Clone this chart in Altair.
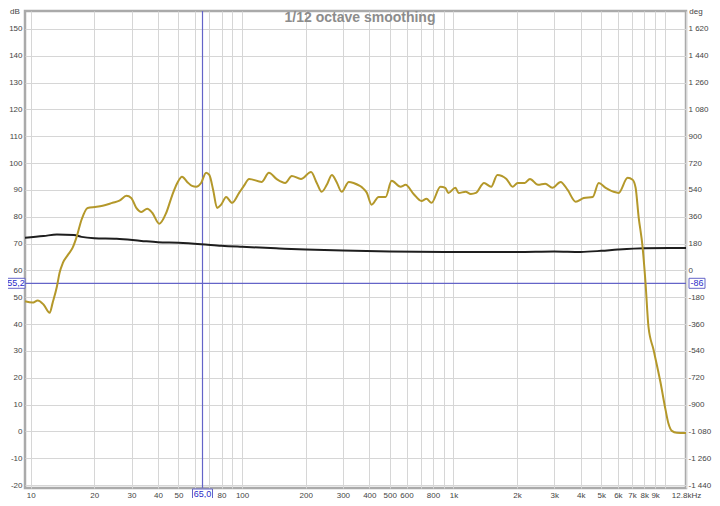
import altair as alt
import pandas as pd

# ---------------- data ----------------
spl_freq = [9.4, 10.2, 10.8, 11.5, 12.3, 12.7, 13.3, 13.7, 14.2, 15.0, 15.8, 16.5, 17.4, 18.6,
            20.5, 21.9, 24.4, 26.3, 28.4, 29.9, 31.6, 33.4, 35.6, 37.6, 40.6, 43.8, 46.8, 49.4,
            52.0, 55.0, 58.0, 60.7, 64.0, 67.6, 70.0, 73.0, 76.2, 79.6, 84.1, 89.7, 97.0, 102,
            108, 124, 134, 146, 160, 172, 190, 212, 226, 238, 252, 266, 280, 296, 320, 337,
            376, 389, 410, 443, 478, 510, 562, 594, 648, 706, 746, 788, 868, 916, 946, 1022,
            1058, 1143, 1208, 1278, 1396, 1508, 1614, 1782, 1904, 2014, 2175, 2302, 2515, 2718,
            2940, 3215, 3470, 3790, 4136, 4562, 4869, 5253, 5727, 6051, 6671, 7043, 7278, 7519,
            7850, 8106, 8372, 8848, 9546, 10080, 10400, 10800, 11400, 12600]
spl_db = [48.5, 48.0, 48.8, 47.3, 44.2, 47.9, 53.9, 59.1, 62.8, 65.8, 68.5, 72.5, 78.9, 83.3,
          83.7, 84.1, 85.2, 86.0, 87.8, 87.0, 83.3, 81.8, 83.0, 81.5, 77.4, 81.5, 88.2, 92.6,
          94.9, 93.0, 91.5, 91.2, 92.6, 96.4, 95.6, 90.0, 83.3, 84.5, 87.4, 85.2, 89.0, 91.5,
          94.1, 93.0, 96.4, 94.0, 92.6, 95.2, 94.1, 96.7, 92.5, 89.3, 92.0, 95.6, 93.0, 89.3, 93.0, 92.6,
          90.4, 89.0, 84.5, 87.4, 87.4, 93.4, 91.2, 91.9, 88.5, 85.9, 86.7, 85.2, 91.2, 90.8, 88.9, 90.8,
          88.9, 89.3, 88.5, 88.9, 92.6, 91.2, 95.6, 94.1, 91.2, 92.6, 92.6, 94.1, 91.9, 92.3,
          90.8, 93.0, 90.0, 85.6, 87.0, 87.4, 92.6, 90.8, 89.3, 88.9, 94.5, 93.8, 90.8, 80.0,
          68.8, 55.4, 39.0, 30.4, 18.2, 8.1, 3.0, 0.2, -0.5, -0.6]

blk_freq = [9.4, 11.5, 13.3, 16.0, 17.4, 20.0, 25.5, 33.4, 40.0, 50.0, 64.0, 80.0, 100, 150,
            200, 300, 500, 1000, 2000, 3000, 4000, 5000, 6000, 8000, 12600]
blk_db = [72.2, 72.8, 73.4, 73.2, 72.5, 72.0, 71.8, 71.0, 70.5, 70.3, 69.8, 69.2, 68.8, 68.2,
          67.8, 67.4, 67.1, 66.9, 66.9, 67.1, 66.9, 67.3, 67.8, 68.3, 68.4]

x_ticks = [10, 20, 30, 40, 50, 60, 70, 80, 90, 100, 200, 300, 400, 500, 600, 700, 800, 900,
           1000, 2000, 3000, 4000, 5000, 6000, 7000, 8000, 9000, 10000, 12600]
y_ticks = [-20, -10, 0, 10, 20, 30, 40, 50, 60, 70, 80, 90, 100, 110, 120, 130, 140, 150]
deg_ticks = [-1440, -1260, -1080, -900, -720, -540, -360, -180, 0, 180, 360, 540, 720, 900,
             1080, 1260, 1440, 1620]

cursor_freq = [65.0]
cursor_db = [55.2]
cursor_deg = [-86.4]
cursor_freq_label = ["65,0"]
cursor_db_label = ["55,2"]
cursor_deg_label = ["-86"]

title_text = "1/12 octave smoothing"

# ---------------- layout / style ----------------
W, H = 661, 477
FONT = "Liberation Sans"
db_domain = [-21.1, 156.7]
deg_domain = [(d - 60) * 18 for d in db_domain]
x_domain = [9.4, 12600]

GOLD = "#b4982a"
BLACK = "#1e1e1e"
CURSOR = "#6464c8"
CTEXT = "#2a2ac8"
GRID = "#d6d6d6"

df_spl = pd.DataFrame({"f": spl_freq, "db": spl_db})
df_blk = pd.DataFrame({"f": blk_freq, "db": blk_db})
df_cf = pd.DataFrame({"f": cursor_freq, "lbl": cursor_freq_label})
df_cd = pd.DataFrame({"db": cursor_db, "lbl": cursor_db_label})
df_cg = pd.DataFrame({"deg": cursor_deg, "lbl": cursor_deg_label})

x_label_expr = (
    "datum.value == 12600 ? '12,8kHz' : "
    "indexof([60, 70, 90, 700, 900, 10000], datum.value) >= 0 ? '' : "
    "datum.value >= 1000 ? (datum.value / 1000) + 'k' : '' + datum.value"
)
x_axis = alt.Axis(values=x_ticks, labelExpr=x_label_expr, grid=True, gridColor=GRID,
                  gridWidth=1, ticks=False, domain=False, labelFont=FONT, labelFontSize=8,
                  labelColor="#444444", labelPadding=3, labelFlush=False,
                  labelOverlap=False, title=None, zindex=0)
x_scale = alt.Scale(type="log", domain=x_domain, nice=False)

y_axis = alt.Axis(values=y_ticks,
                  labelExpr="datum.value < 0 ? '-' + abs(datum.value) : '' + datum.value",
                  grid=True, gridColor=GRID, gridWidth=1, ticks=False, domain=False,
                  labelFont=FONT, labelFontSize=8, labelColor="#444444", labelPadding=3,
                  labelFlush=False, labelOverlap=False, title=None, zindex=0)
y_scale = alt.Scale(domain=db_domain, nice=False, zero=False)

deg_axis = alt.Axis(orient="right", values=deg_ticks,
                    labelExpr="(datum.value < 0 ? '-' : '') + (abs(datum.value) >= 1000 ? "
                              "floor(abs(datum.value) / 1000) + ' ' + format(abs(datum.value) % 1000, '03d')"
                              " : '' + abs(datum.value))",
                    grid=False, ticks=False, domain=False, labelFont=FONT, labelFontSize=8,
                    labelColor="#444444", labelPadding=2, labelFlush=False,
                    labelOverlap=False, title=None, zindex=0)
deg_scale = alt.Scale(domain=deg_domain, nice=False, zero=False)


def X():
    return alt.X("f:Q", scale=x_scale, axis=x_axis)


def Y():
    return alt.Y("db:Q", scale=y_scale, axis=y_axis)


def box_shape(w, h):
    hh = h / w
    return f"M-1,-{hh:.3f}L1,-{hh:.3f}L1,{hh:.3f}L-1,{hh:.3f}Z", w * w


vrule = alt.Chart(df_cf).mark_rule(color=CURSOR, strokeWidth=1.2).encode(x=X())
hrule = alt.Chart(df_cd).mark_rule(color=CURSOR, strokeWidth=1.2).encode(y=Y())

black = alt.Chart(df_blk).mark_line(color=BLACK, strokeWidth=2, interpolate="monotone").encode(x=X(), y=Y())
gold = alt.Chart(df_spl).mark_line(color=GOLD, strokeWidth=2, interpolate="monotone").encode(x=X(), y=Y())

shp_l, sz_l = box_shape(18, 10)
left_box = alt.Chart(df_cd).mark_point(shape=shp_l, size=sz_l, filled=True, fill="white",
                                       stroke=CURSOR, strokeWidth=1, opacity=1).encode(
    x=alt.value(-9), y=Y())
left_txt = alt.Chart(df_cd).mark_text(font=FONT, fontSize=9, color=CTEXT, align="center",
                                      baseline="middle").encode(x=alt.value(-9), y=Y(), text="lbl:N")

shp_b, sz_b = box_shape(20, 10)
bot_box = alt.Chart(df_cf).mark_point(shape=shp_b, size=sz_b, filled=True, fill="white",
                                      stroke=CURSOR, strokeWidth=1, opacity=1).encode(
    x=X(), y=alt.value(H + 6))
bot_txt = alt.Chart(df_cf).mark_text(font=FONT, fontSize=9, color=CTEXT, align="center",
                                     baseline="middle").encode(x=X(), y=alt.value(H + 6), text="lbl:N")

title = alt.Chart(pd.DataFrame({"t": [title_text]})).mark_text(
    font=FONT, fontSize=14, fontWeight="bold", color="#8c8c8c", align="center",
    baseline="alphabetic").encode(x=alt.value(335), y=alt.value(11), text="t:N")
db_lbl = alt.Chart(pd.DataFrame({"t": ["dB"]})).mark_text(
    font=FONT, fontSize=8, color="#444444", align="center", baseline="top").encode(
    x=alt.value(-10), y=alt.value(-3), text="t:N")

layer_db = alt.layer(vrule, hrule, black, gold, left_box, left_txt, bot_box, bot_txt, title, db_lbl)

shp_r, sz_r = box_shape(16, 10)
right_box = alt.Chart(df_cg).mark_point(shape=shp_r, size=sz_r, filled=True, fill="white",
                                        stroke=CURSOR, strokeWidth=1, opacity=1).encode(
    x=alt.value(W + 11), y=alt.Y("deg:Q", scale=deg_scale, axis=deg_axis))
right_txt = alt.Chart(df_cg).mark_text(font=FONT, fontSize=9, color=CTEXT, align="center",
                                       baseline="middle").encode(
    x=alt.value(W + 11), y=alt.Y("deg:Q", scale=deg_scale, axis=deg_axis), text="lbl:N")
deg_lbl = alt.Chart(pd.DataFrame({"t": ["deg"]})).mark_text(
    font=FONT, fontSize=8, color="#444444", align="center", baseline="top").encode(
    x=alt.value(W + 10), y=alt.value(-3), text="t:N")

layer_deg = alt.layer(right_box, right_txt, deg_lbl)

chart = alt.layer(layer_db, layer_deg).resolve_scale(y="independent").resolve_axis(
    y="independent").properties(
    width=W, height=H, autosize="none",
    padding={"left": 17, "top": 3, "right": 26, "bottom": 10},
    background="white",
).configure_view(stroke="#aaaaaa", strokeWidth=2.5)

chart.save("out.html", embed_options={"renderer": "svg", "actions": False})
